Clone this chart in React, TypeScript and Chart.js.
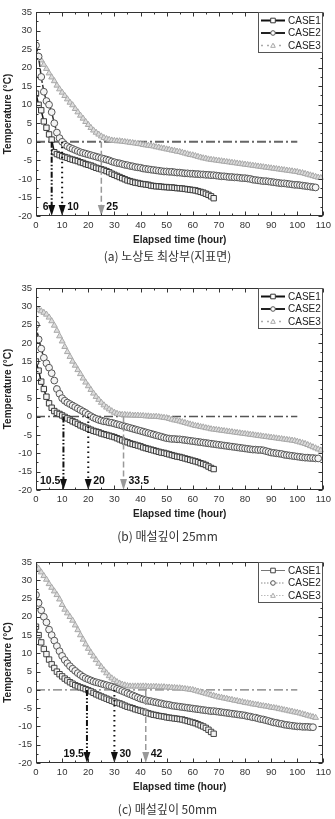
import React, { useEffect, useRef } from 'react';
import { Chart, registerables } from 'chart.js';
Chart.register(...registerables);

const FONT = "'Liberation Sans', Arial, Helvetica, sans-serif";
const CJK = "'Noto Sans CJK KR', 'Noto Sans', sans-serif";

const HOURS = [0, 1, 2, 3, 4, 5, 6, 7, 8, 9, 10, 11, 12, 13, 14, 15, 16, 17, 18, 19, 20, 21, 22, 23, 24, 25, 26, 27, 28, 29, 30, 31, 32, 33, 34, 35, 36, 37, 38, 39, 40, 41, 42, 43, 44, 45, 46, 47, 48, 49, 50, 51, 52, 53, 54, 55, 56, 57, 58, 59, 60, 61, 62, 63, 64, 65, 66, 67, 68, 69, 70, 71, 72, 73, 74, 75, 76, 77, 78, 79, 80, 81, 82, 83, 84, 85, 86, 87, 88, 89, 90, 91, 92, 93, 94, 95, 96, 97, 98, 99, 100, 101, 102, 103, 104, 105, 106, 107, 108, 109, 110];

const SERIES_NAMES = ['CASE1', 'CASE2', 'CASE3'];
const X_MIN = 0, X_MAX = 110, X_STEP = 10;
const Y_MIN = -20, Y_MAX = 35, Y_STEP = 5;
const ZERO_LINE_END = 100;
const X_TITLE = 'Elapsed time (hour)';
const Y_TITLE = 'Temperature (°C)';

// (a) subgrade top surface
const A_CASE1 = [13, 10, 8.5, 5.5, 3.8, 2, 0.6, -2.8, -3.3, -3.6,
  -3.9, -4.1, -4.3, -4.6, -4.8, -5, -5.2, -5.5, -5.7, -6,
  -6.2, -6.4, -6.7, -7, -7.2, -7.4, -7.6, -7.9, -8.2, -8.6,
  -8.9, -9.2, -9.5, -9.8, -10.1, -10.4, -10.6, -10.8, -11, -11.1,
  -11.3, -11.4, -11.5, -11.6, -11.8, -11.9, -12, -12, -12.1, -12.2,
  -12.2, -12.3, -12.3, -12.4, -12.5, -12.5, -12.6, -12.7, -12.8, -12.9,
  -13, -13.1, -13.3, -13.5, -13.7, -14, -14.3, -14.7, -15.2];
const A_CASE2 = [26, 23, 17.5, 13.5, 11, 10, 8, 5, 2.5, 1,
  0, -0.8, -1.2, -1.6, -1.9, -2.2, -2.5, -2.8, -3, -3.2,
  -3.4, -3.6, -3.8, -4, -4.2, -4.4, -4.6, -4.8, -5, -5.3,
  -5.5, -5.7, -5.8, -6, -6.2, -6.3, -6.5, -6.6, -6.8, -6.9,
  -7, -7.2, -7.3, -7.4, -7.5, -7.6, -7.7, -7.8, -7.9, -8,
  -8, -8.1, -8.1, -8.2, -8.3, -8.3, -8.4, -8.5, -8.5, -8.6,
  -8.6, -8.7, -8.7, -8.8, -8.8, -8.9, -8.9, -9, -9, -9.1,
  -9.2, -9.3, -9.3, -9.4, -9.5, -9.5, -9.6, -9.6, -9.7, -9.8,
  -9.8, -9.9, -10, -10.2, -10.3, -10.4, -10.5, -10.6, -10.6, -10.7,
  -10.8, -10.9, -11, -11.1, -11.2, -11.2, -11.3, -11.4, -11.5, -11.6,
  -11.6, -11.7, -11.8, -11.9, -12, -12.1, -12.2, -12.3];
const A_CASE3 = [24, 23, 22, 20.8, 19.7, 18.5, 17.4, 16.4, 15.2, 14.2,
  13.3, 12.4, 11.5, 10.6, 9.9, 8.9, 8, 7.1, 6.3, 5.4,
  4.6, 3.8, 3.1, 2.5, 2, 1.5, 1.1, 0.8, 0.6, 0.4,
  0.3, 0.2, 0.2, 0.1, 0, -0.1, -0.2, -0.3, -0.4, -0.5,
  -0.6, -0.8, -0.9, -1, -1.1, -1.2, -1.4, -1.5, -1.7, -1.8,
  -2, -2.1, -2.3, -2.4, -2.6, -2.7, -2.9, -3.1, -3.3, -3.5,
  -3.6, -3.8, -4, -4.2, -4.4, -4.5, -4.7, -4.8, -4.9, -5,
  -5.1, -5.2, -5.3, -5.4, -5.5, -5.6, -5.7, -5.8, -5.9, -6,
  -6.1, -6.2, -6.3, -6.4, -6.5, -6.6, -6.7, -6.8, -6.9, -7,
  -7.1, -7.2, -7.3, -7.4, -7.5, -7.6, -7.7, -7.8, -7.9, -8,
  -8.1, -8.3, -8.4, -8.6, -8.8, -9, -9.2, -9.4, -9.6, -9.7];

// (b) burial depth 25mm
const B_CASE1 = [15, 12.5, 9.5, 7.5, 5.4, 3.6, 2.4, 1.5, 1, 0.7,
  0.3, -0.1, -0.5, -0.9, -1.3, -1.6, -2, -2.4, -2.7, -3,
  -3.3, -3.6, -3.9, -4.1, -4.3, -4.6, -4.8, -5, -5.2, -5.4,
  -5.6, -5.9, -6.2, -6.5, -6.8, -7, -7.3, -7.5, -7.7, -7.9,
  -8.1, -8.4, -8.6, -8.8, -9, -9.2, -9.4, -9.6, -9.8, -9.9,
  -10.1, -10.3, -10.5, -10.7, -10.9, -11, -11.2, -11.4, -11.6, -11.8,
  -12, -12.2, -12.4, -12.7, -12.9, -13.2, -13.6, -14, -14.3];
const B_CASE2 = [25, 21, 18.5, 16, 14.5, 13.3, 11.8, 9.8, 7.5, 6.2,
  5, 4.3, 3.8, 3.4, 3, 2.6, 2.2, 1.8, 1.4, 1,
  0.5, 0.1, -0.3, -0.6, -0.9, -1.1, -1.3, -1.4, -1.6, -1.7,
  -1.9, -2.1, -2.3, -2.5, -2.7, -2.9, -3.1, -3.3, -3.5, -3.7,
  -3.9, -4.1, -4.3, -4.5, -4.7, -4.9, -5.1, -5.3, -5.5, -5.7,
  -5.9, -6, -6.1, -6.1, -6.2, -6.2, -6.3, -6.4, -6.5, -6.6,
  -6.7, -6.8, -6.9, -7, -7.1, -7.2, -7.3, -7.4, -7.5, -7.6,
  -7.7, -7.8, -7.9, -8, -8.1, -8.2, -8.3, -8.4, -8.5, -8.6,
  -8.7, -8.8, -8.9, -9, -9, -9.1, -9.1, -9.2, -9.4, -9.6,
  -9.8, -9.9, -10, -10.1, -10.2, -10.4, -10.5, -10.6, -10.7, -10.8,
  -10.9, -11, -11.1, -11.2, -11.2, -11.3, -11.3, -11.4, -11.4];
const B_CASE3 = [29.2, 29, 28.7, 28.3, 27.8, 27, 26, 24.8, 23.4, 21.9,
  20.5, 19, 17.6, 16.3, 15, 13.9, 12.7, 11.6, 10.4, 9.3,
  8.3, 7.3, 6.3, 5.4, 4.6, 3.8, 3.1, 2.5, 2, 1.5,
  1.1, 0.8, 0.6, 0.5, 0.5, 0.4, 0.4, 0.3, 0.3, 0.3,
  0.2, 0.2, 0.1, 0.1, 0, 0, 0, -0.1, -0.2, -0.3,
  -0.4, -0.6, -0.8, -1, -1.1, -1.3, -1.5, -1.7, -1.9, -2.1,
  -2.3, -2.5, -2.6, -2.8, -2.9, -3.1, -3.2, -3.4, -3.5, -3.6,
  -3.7, -3.8, -3.9, -4, -4.1, -4.2, -4.3, -4.4, -4.5, -4.6,
  -4.7, -4.8, -4.9, -5, -5.1, -5.2, -5.3, -5.4, -5.5, -5.6,
  -5.7, -5.8, -5.9, -6, -6.1, -6.2, -6.3, -6.4, -6.5, -6.6,
  -6.8, -7, -7.2, -7.4, -7.7, -8, -8.3, -8.6, -8.9, -9.2];

// (c) burial depth 50mm
const C_CASE1 = [17.3, 15, 13, 11.2, 9.8, 8.3, 7, 6, 5, 4.3,
  3.7, 3.1, 2.6, 2.1, 1.7, 1.3, 1, 0.7, 0.5, 0.2,
  -0.1, -0.4, -0.8, -1.2, -1.5, -1.8, -2.1, -2.4, -2.7, -3,
  -3.2, -3.5, -3.7, -4, -4.3, -4.6, -4.8, -5, -5.3, -5.5,
  -5.7, -5.9, -6.2, -6.4, -6.6, -6.8, -6.9, -7.1, -7.2, -7.3,
  -7.5, -7.6, -7.7, -7.8, -7.9, -8, -8.1, -8.3, -8.5, -8.7,
  -8.9, -9.1, -9.4, -9.7, -10, -10.4, -10.9, -11.5, -12];
const C_CASE2 = [26, 23.8, 21.8, 20, 18.5, 16.5, 15, 13.5, 12, 10.6,
  9.3, 8.2, 7.3, 6.5, 5.8, 5.2, 4.6, 4.1, 3.6, 3.2,
  2.9, 2.6, 2.3, 2.1, 1.9, 1.7, 1.5, 1.3, 1.1, 0.9,
  0.6, 0.3, 0, -0.3, -0.6, -0.9, -1.2, -1.5, -1.8, -2.1,
  -2.4, -2.6, -2.8, -3, -3.1, -3.3, -3.4, -3.6, -3.7, -3.9,
  -4, -4.1, -4.3, -4.4, -4.5, -4.6, -4.7, -4.8, -4.9, -5,
  -5.1, -5.2, -5.3, -5.4, -5.5, -5.6, -5.7, -5.8, -5.8, -5.9,
  -6, -6.1, -6.2, -6.3, -6.4, -6.5, -6.6, -6.7, -6.8, -6.9,
  -7, -7.2, -7.3, -7.5, -7.6, -7.8, -8, -8.1, -8.3, -8.5,
  -8.7, -8.9, -9, -9.2, -9.3, -9.5, -9.6, -9.7, -9.8, -9.9,
  -10, -10, -10.1, -10.1, -10.1, -10.2, -10.2];
const C_CASE3 = [34, 33.2, 32.2, 31.2, 30.2, 29, 28, 27, 26, 24.8,
  23.3, 22, 21, 20, 19, 17.7, 16.4, 15, 13.8, 12.5,
  11.3, 10.2, 9.2, 8.2, 7.2, 6.3, 5.4, 4.6, 3.8, 3.2,
  2.7, 2.2, 1.8, 1.5, 1.3, 1.1, 1, 1, 1, 1,
  1, 1, 1, 0.9, 0.9, 0.9, 0.9, 0.8, 0.8, 0.8,
  0.7, 0.7, 0.6, 0.6, 0.5, 0.5, 0.4, 0.3, 0.2, 0.1,
  0, -0.2, -0.4, -0.6, -0.8, -1, -1.2, -1.4, -1.6, -1.8,
  -2, -2.1, -2.3, -2.4, -2.6, -2.7, -2.9, -3, -3.2, -3.3,
  -3.5, -3.6, -3.7, -3.9, -4, -4.1, -4.3, -4.4, -4.5, -4.6,
  -4.8, -4.9, -5, -5.2, -5.3, -5.5, -5.6, -5.8, -5.9, -6.1,
  -6.2, -6.4, -6.6, -6.8, -7, -7.2, -7.4, -7.6];

const A_ARROWS = [6, 10, 25];
const A_ARROW_LABELS = ['6', '10', '25'];
const B_ARROWS = [10.5, 20, 33.5];
const B_ARROW_LABELS = ['10.5', '20', '33.5'];
const C_ARROWS = [19.5, 30, 42];
const C_ARROW_LABELS = ['19.5', '30', '42'];
const ARROW_LABEL_Y = -17.6;

const CAPTIONS = ['(a) 노상토 최상부(지표면)', '(b) 매설깊이 25mm', '(c) 매설깊이 50mm'];

type SeriesStyle = { line: string; dash: number[]; width: number; point: string; radius: number; pborder: string; pfill: string; legendDash: number[]; legendWidth: number; legendColor: string };

const STYLE_DARK: SeriesStyle[] = [
  { line: '#1a1a1a', dash: [], width: 1.5, point: 'rect', radius: 3.8, pborder: '#3a3a3a', pfill: '#f4f4f4', legendDash: [], legendWidth: 2, legendColor: '#111' },
  { line: '#333', dash: [6, 2], width: 1.5, point: 'circle', radius: 3.4, pborder: '#555', pfill: '#f4f4f4', legendDash: [], legendWidth: 2, legendColor: '#222' },
  { line: '#bbb', dash: [3, 3], width: 1, point: 'triangle', radius: 3.4, pborder: '#a9a9a9', pfill: '#dcdcdc', legendDash: [2, 4], legendWidth: 1.5, legendColor: '#aaa' },
];
const STYLE_LIGHT: SeriesStyle[] = [
  { line: '#777', dash: [], width: 1, point: 'rect', radius: 3.8, pborder: '#444', pfill: '#f4f4f4', legendDash: [], legendWidth: 1, legendColor: '#777' },
  { line: '#888', dash: [1.5, 2], width: 1, point: 'circle', radius: 3.4, pborder: '#555', pfill: '#f4f4f4', legendDash: [1.5, 1.5], legendWidth: 1, legendColor: '#888' },
  { line: '#bbb', dash: [1.5, 2], width: 1, point: 'triangle', radius: 3.4, pborder: '#a9a9a9', pfill: '#dcdcdc', legendDash: [1.5, 1.5], legendWidth: 1, legendColor: '#bbb' },
];

const ARROW_STYLES = [
  { color: '#111', dash: [6, 2, 1.5, 2, 1.5, 2], width: 2 },
  { color: '#111', dash: [1.5, 3.5], width: 2 },
  { color: '#999', dash: [6, 3], width: 1.5 },
];

type PanelSpec = {
  top: number; padBottom: number; captionOffset: number;
  series: number[][]; arrows: number[]; arrowLabels: string[]; caption: string;
  styles: SeriesStyle[]; zeroWidth: number; zeroColor: string;
};

const PANELS: PanelSpec[] = [
  { top: 0, padBottom: 23, captionOffset: 40.7, series: [A_CASE1, A_CASE2, A_CASE3], arrows: A_ARROWS, arrowLabels: A_ARROW_LABELS, caption: CAPTIONS[0], styles: STYLE_DARK, zeroWidth: 2, zeroColor: '#666' },
  { top: 276, padBottom: 25, captionOffset: 46.7, series: [B_CASE1, B_CASE2, B_CASE3], arrows: B_ARROWS, arrowLabels: B_ARROW_LABELS, caption: CAPTIONS[1], styles: STYLE_DARK, zeroWidth: 1.5, zeroColor: '#555' },
  { top: 550, padBottom: 26, captionOffset: 46.7, series: [C_CASE1, C_CASE2, C_CASE3], arrows: C_ARROWS, arrowLabels: C_ARROW_LABELS, caption: CAPTIONS[2], styles: STYLE_LIGHT, zeroWidth: 1, zeroColor: '#555' },
];

function drawMarker(ctx: CanvasRenderingContext2D, kind: string, x: number, y: number, r: number) {
  ctx.beginPath();
  if (kind === 'rect') ctx.rect(x - r, y - r, 2 * r, 2 * r);
  else if (kind === 'circle') ctx.arc(x, y, r, 0, Math.PI * 2);
  else { ctx.moveTo(x, y - r); ctx.lineTo(x + r, y + r * 0.8); ctx.lineTo(x - r, y + r * 0.8); ctx.closePath(); }
  ctx.fill();
  ctx.stroke();
}

function Panel({ spec }: { spec: PanelSpec }) {
  const ref = useRef<HTMLCanvasElement | null>(null);
  useEffect(() => {
    const canvas = ref.current;
    if (!canvas) return;
    const styles = spec.styles;
    const decor = {
      id: 'decor',
      beforeDatasetsDraw(chart: any) {
        const { ctx, scales } = chart;
        const x = scales.x, y = scales.y;
        ctx.save();
        ctx.strokeStyle = spec.zeroColor;
        ctx.lineWidth = spec.zeroWidth;
        ctx.setLineDash([9, 3, 2, 3]);
        const y0 = y.getPixelForValue(0);
        ctx.beginPath();
        ctx.moveTo(x.getPixelForValue(X_MIN), y0);
        ctx.lineTo(x.getPixelForValue(ZERO_LINE_END), y0);
        ctx.stroke();
        ctx.restore();
      },
      afterDatasetsDraw(chart: any) {
        const { ctx, scales } = chart;
        const x = scales.x, y = scales.y;
        ctx.save();
        spec.arrows.forEach((v, i) => {
          const st = ARROW_STYLES[i];
          const px = x.getPixelForValue(v);
          const yTop = y.getPixelForValue(0);
          const yBot = y.getPixelForValue(Y_MIN);
          ctx.strokeStyle = st.color;
          ctx.lineWidth = st.width;
          ctx.setLineDash(st.dash);
          ctx.beginPath();
          ctx.moveTo(px, yTop);
          ctx.lineTo(px, yBot - 9);
          ctx.stroke();
          ctx.setLineDash([]);
          ctx.fillStyle = st.color;
          ctx.beginPath();
          ctx.moveTo(px - 3.5, yBot - 11);
          ctx.lineTo(px + 3.5, yBot - 11);
          ctx.lineTo(px, yBot);
          ctx.closePath();
          ctx.fill();
          ctx.font = `bold 10.5px ${FONT}`;
          ctx.fillStyle = '#111';
          ctx.textBaseline = 'middle';
          const ly = y.getPixelForValue(ARROW_LABEL_Y);
          if (i === 0) { ctx.textAlign = 'right'; ctx.fillText(spec.arrowLabels[i], px - 3, ly); }
          else { ctx.textAlign = 'left'; ctx.fillText(spec.arrowLabels[i], px + 5, ly); }
        });
        ctx.restore();
      },
      afterDraw(chart: any) {
        const { ctx, chartArea: ca, scales } = chart;
        const x = scales.x, y = scales.y;
        ctx.save();
        ctx.strokeStyle = '#333';
        ctx.lineWidth = 1;
        ctx.setLineDash([]);
        const L = Math.round(ca.left) + 0.5, R = Math.round(ca.right) - 0.5;
        const T = Math.round(ca.top) + 0.5, B = Math.round(ca.bottom) - 0.5;
        ctx.strokeRect(L, T, R - L, B - T);
        ctx.beginPath();
        for (let v = X_MIN; v <= X_MAX; v += X_STEP / 2) {
          const px = Math.round(x.getPixelForValue(v)) + 0.5;
          const len = v % X_STEP === 0 ? 4 : 2;
          ctx.moveTo(px, B); ctx.lineTo(px, B - len);
          ctx.moveTo(px, T); ctx.lineTo(px, T + len);
        }
        for (let v = Y_MIN; v <= Y_MAX; v += Y_STEP / 2) {
          const py = Math.round(y.getPixelForValue(v)) + 0.5;
          const len = v % Y_STEP === 0 ? 4 : 2;
          ctx.moveTo(L, py); ctx.lineTo(L + len, py);
          ctx.moveTo(R, py); ctx.lineTo(R - len, py);
        }
        ctx.stroke();

        // legend box
        const bw = 65, bh = 41;
        const bx = Math.round(ca.right) - bw, by = Math.round(ca.top);
        ctx.fillStyle = '#fff';
        ctx.fillRect(bx, by, bw, bh);
        ctx.strokeStyle = '#555';
        ctx.strokeRect(bx + 0.5, by + 0.5, bw - 1, bh - 1);
        SERIES_NAMES.forEach((name, i) => {
          const st = styles[i];
          const ry = by + 8.5 + i * 12.5;
          ctx.strokeStyle = st.legendColor;
          ctx.lineWidth = st.legendWidth;
          ctx.setLineDash(st.legendDash);
          ctx.beginPath();
          ctx.moveTo(bx + 3, ry);
          ctx.lineTo(bx + 27, ry);
          ctx.stroke();
          ctx.setLineDash([]);
          ctx.lineWidth = 1;
          ctx.fillStyle = '#fff';
          ctx.strokeStyle = st.pborder;
          drawMarker(ctx, st.point, bx + 15, ry, 2.3);
          ctx.fillStyle = '#222';
          ctx.font = `10px ${FONT}`;
          ctx.textAlign = 'left';
          ctx.textBaseline = 'middle';
          ctx.fillText(name, bx + 30, ry + 0.5);
        });

        // caption
        ctx.fillStyle = '#333';
        ctx.font = `12px ${CJK}`;
        ctx.textAlign = 'center';
        ctx.textBaseline = 'middle';
        ctx.fillText(spec.caption, chart.width / 2, ca.bottom + spec.captionOffset);
        ctx.restore();
      },
    };

    const datasets = spec.series.map((vals, i) => {
      const st = styles[i];
      return {
        label: SERIES_NAMES[i],
        data: vals.map((v, k) => ({ x: HOURS[k], y: v })),
        borderColor: st.line,
        borderWidth: st.width,
        borderDash: st.dash,
        pointStyle: st.point,
        pointRadius: st.radius,
        pointBorderColor: st.pborder,
        pointBackgroundColor: st.pfill,
        pointBorderWidth: 1,
        tension: 0,
        fill: false,
      };
    });

    const chart = new Chart(canvas, {
      type: 'line',
      data: { datasets } as any,
      plugins: [decor as any],
      options: {
        responsive: false,
        animation: false,
        devicePixelRatio: 1,
        layout: { padding: { top: 12, right: 9, left: 0, bottom: spec.padBottom } },
        plugins: { legend: { display: false }, title: { display: false }, tooltip: { enabled: false } },
        events: [],
        scales: {
          x: {
            type: 'linear', min: X_MIN, max: X_MAX,
            grid: { display: false, drawTicks: false }, border: { display: false },
            ticks: { stepSize: X_STEP, padding: 4, color: '#333', font: { family: FONT, size: 9.5 } },
            title: { display: true, text: X_TITLE, color: '#222', font: { family: FONT, size: 10, weight: 'bold' }, padding: { top: 0, bottom: 1 } },
            afterFit: (s: any) => { s.height = 31; },
          },
          y: {
            type: 'linear', min: Y_MIN, max: Y_MAX,
            grid: { display: false, drawTicks: false }, border: { display: false },
            ticks: { stepSize: Y_STEP, padding: 4, color: '#333', font: { family: FONT, size: 9.5 } },
            title: { display: true, text: Y_TITLE, color: '#222', font: { family: FONT, size: 10, weight: 'bold' }, padding: { top: 2, bottom: 0 } },
            afterFit: (s: any) => { s.width = 36; },
          },
        },
      } as any,
    });
    return () => chart.destroy();
  }, [spec]);
  return (
    <canvas
      ref={ref}
      width={335}
      height={270}
      style={{ position: 'absolute', left: 0, top: spec.top, width: 335, height: 270, display: 'block' }}
    />
  );
}

export default function App() {
  return (
    <div style={{ position: 'absolute', left: 0, top: 0, width: 335, height: 819, background: '#fff' }}>
      {PANELS.map((p, i) => <Panel key={i} spec={p} />)}
    </div>
  );
}
